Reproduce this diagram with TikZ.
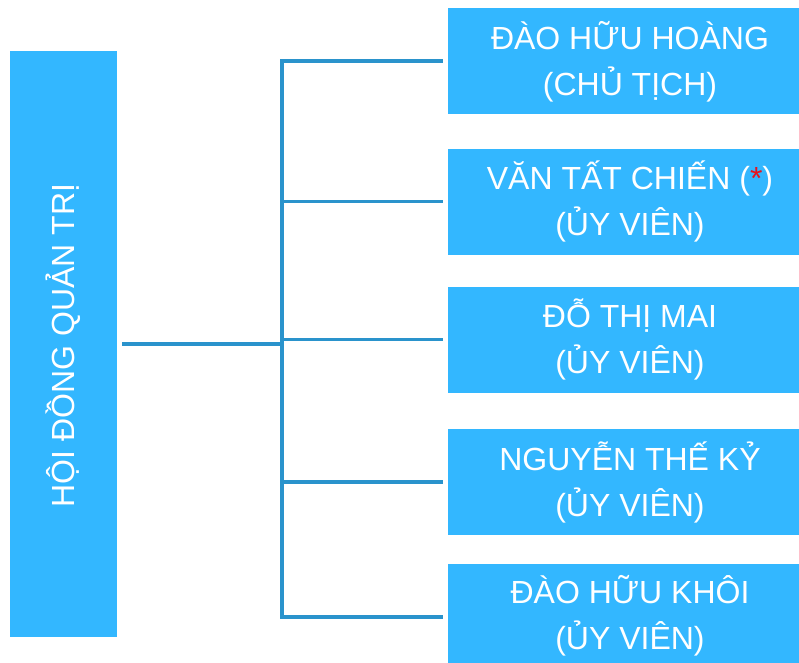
\documentclass[tikz,border=0pt]{standalone}
\usepackage{fontspec}
\setmainfont{Liberation Sans}
\definecolor{boxblue}{RGB}{51,183,255}
\definecolor{linkblue}{RGB}{42,147,204}
\definecolor{starred}{RGB}{230,20,30}
\tikzset{
  member/.style={fill=boxblue, draw=none, minimum width=351pt, minimum height=106pt, inner sep=0pt, anchor=west},
  board/.style={fill=boxblue, draw=none, minimum width=107pt, minimum height=586pt, inner sep=0pt},
  label/.style={text=white, align=center, inner sep=0pt, font=\fontsize{32}{46}\selectfont},
  link/.style={draw=linkblue, line width=3.1pt}
}
\newcommand{\topstrut}{\rule{0pt}{32pt}}
\newcommand{\botstrut}{\rule[-8pt]{0pt}{8pt}}
\begin{document}
\begin{tikzpicture}[x=1pt, y=-1pt]
\useasboundingbox (0,0) rectangle (799,662);
% left board box
\node[board] (L) at (63.5,344) {};
\node[label, rotate=90, anchor=base] (Lt) at (74,345.5) {HỘI ĐỒNG QUẢN TRỊ};
% member boxes
\node[member] (B1) at (448,61) {};
\node[member] (B2) at (448,201.5) {};
\node[member] (B3) at (448,339.5) {};
\node[member] (B4) at (448,482) {};
\node[member] (B5) at (448,617) {};
% texts
\node[label] (T1) at (630,60) {\topstrut ĐÀO HỮU HOÀNG\\(CHỦ TỊCH)\botstrut};
\node[label] (T2) at (630,200.5) {\topstrut VĂN TẤT CHIẾN (\textcolor{starred}{*})\\(ỦY VIÊN)\botstrut};
\node[label] (T3) at (630,338.5) {\topstrut ĐỖ THỊ MAI\\(ỦY VIÊN)\botstrut};
\node[label] (T4) at (630,481) {\topstrut NGUYỄN THẾ KỶ\\(ỦY VIÊN)\botstrut};
\node[label] (T5) at (630,614) {\topstrut ĐÀO HỮU KHÔI\\(ỦY VIÊN)\botstrut};
% connectors
\coordinate (J) at (282,344);
\coordinate (V1) at (282,61);
\coordinate (V2) at (282,201.5);
\coordinate (V3) at (282,339.5);
\coordinate (V4) at (282,482);
\coordinate (V5) at (282,617);
\draw[link] ([xshift=5pt]L.east) -- (J);
\draw[link, line cap=rect] (V1) -- (V5);
\draw[link] (V1) -- ([xshift=-5pt]B1.west);
\draw[link] (V2) -- ([xshift=-5pt]B2.west);
\draw[link] (V3) -- ([xshift=-5pt]B3.west);
\draw[link] (V4) -- ([xshift=-5pt]B4.west);
\draw[link] (V5) -- ([xshift=-5pt]B5.west);
\end{tikzpicture}
\end{document}
